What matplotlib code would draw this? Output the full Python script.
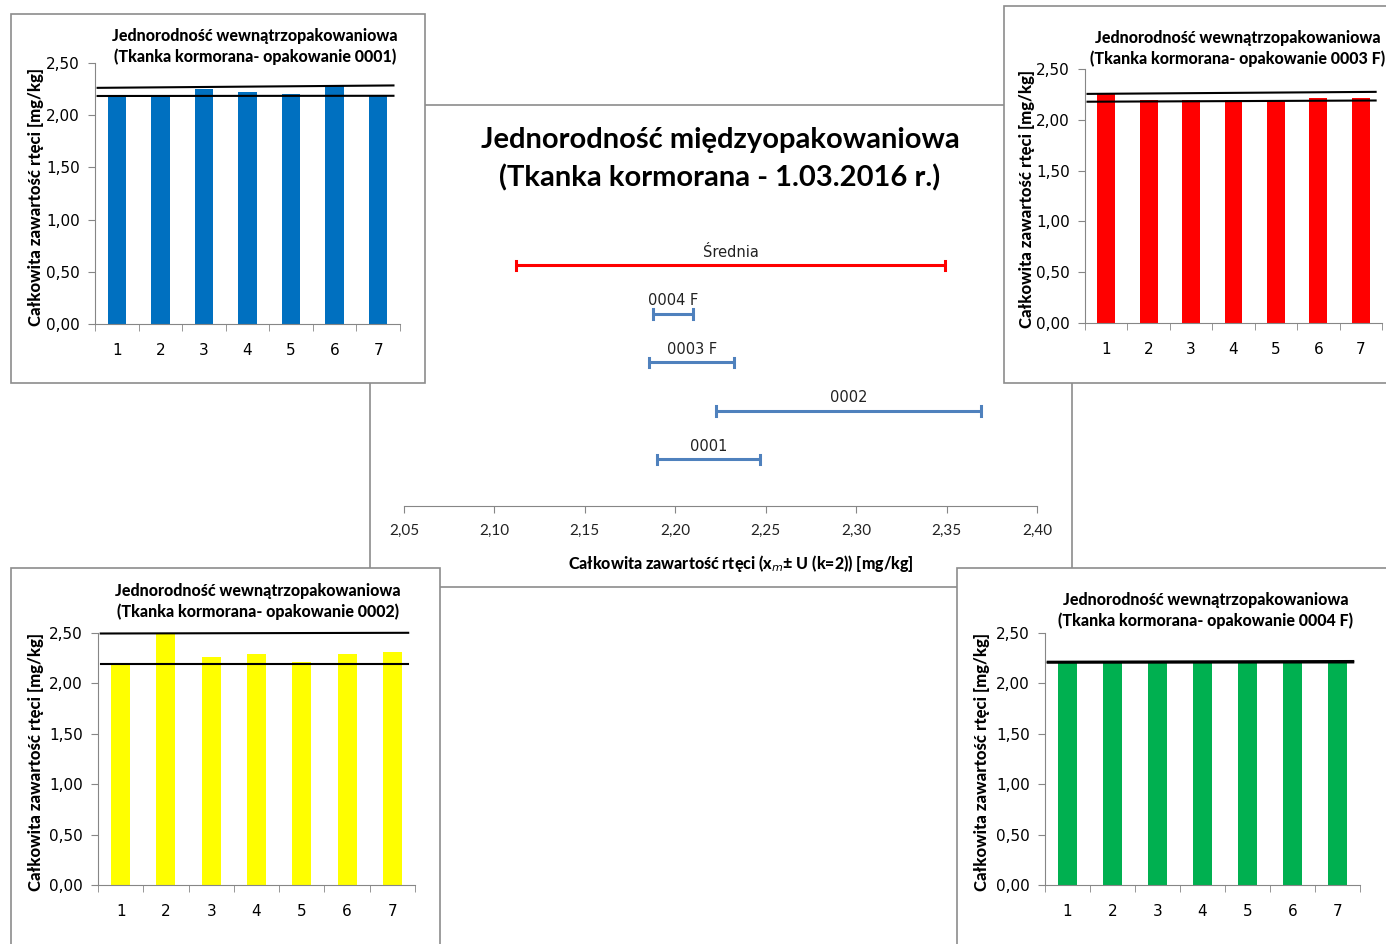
import matplotlib
matplotlib.use("Agg")
import matplotlib.pyplot as plt
from matplotlib.patches import Rectangle
import numpy as np

plt.rcParams['font.family'] = ['Lato', 'DejaVu Sans']

W, H = 1386, 944

# ---------------- data ----------------
samples = [1, 2, 3, 4, 5, 6, 7]
vals_0001 = [2.19, 2.19, 2.25, 2.22, 2.20, 2.28, 2.19]
vals_0003F = [2.26, 2.19, 2.19, 2.19, 2.19, 2.21, 2.21]
vals_0002 = [2.18, 2.50, 2.26, 2.29, 2.21, 2.29, 2.31]
vals_0004F = [2.21, 2.21, 2.21, 2.21, 2.21, 2.21, 2.21]

# limit lines (value at left end, value at right end)
upper_0001 = [2.262, 2.285]
lower_0001 = [2.184, 2.186]
upper_0003F = [2.255, 2.275]
lower_0003F = [2.178, 2.190]
upper_0002 = [2.495, 2.502]
lower_0002 = [2.192, 2.192]
upper_0004F = [2.215, 2.222]
lower_0004F = [2.205, 2.208]

y_ticks_small = [0.0, 0.5, 1.0, 1.5, 2.0, 2.5]

# central chart: intervals (lower, upper)
interval_labels = ['0001', '0002', '0003 F', '0004 F', 'Średnia']
interval_low = [2.190, 2.2225, 2.1855, 2.1877, 2.112]
interval_high = [2.2468, 2.369, 2.2325, 2.2098, 2.349]
interval_colors = ['#4F81BD', '#4F81BD', '#4F81BD', '#4F81BD', '#FF0000']
x_ticks_center = [2.05, 2.10, 2.15, 2.20, 2.25, 2.30, 2.35, 2.40]

fig = plt.figure(figsize=(W / 100, H / 100), dpi=100)
fig.patch.set_facecolor('white')


def fx(px):
    return px / W


def fy(py):
    return 1 - py / H


def box(x0, y0, x1, y1, z):
    r = Rectangle((fx(x0), fy(y1)), fx(x1 - x0), (y1 - y0) / H,
                  transform=fig.transFigure, facecolor='white',
                  edgecolor='#8C8C8C', linewidth=1.2, zorder=z)
    fig.add_artist(r)


def axes_px(left, right, top, bottom, z):
    ax = fig.add_axes([fx(left), fy(bottom), fx(right - left), (bottom - top) / H], zorder=z)
    ax.patch.set_visible(False)
    return ax


def fmt(v, d=2):
    return f"{v:.{d}f}".replace('.', ',')


AXC = '#868686'

# ---------------- central chart ----------------
box(370, 105, 1072, 587, 0)
axc = axes_px(404, 1037, 217, 506, 1)
ypos = np.arange(1, len(interval_labels) + 1)
for yv, lab, lo, hi, col in zip(ypos, interval_labels, interval_low, interval_high, interval_colors):
    axc.plot([lo, hi], [yv, yv], color=col, lw=2.2, solid_capstyle='butt')
    axc.plot([lo, lo], [yv - 0.1, yv + 0.1], color=col, lw=2.2)
    axc.plot([hi, hi], [yv - 0.1, yv + 0.1], color=col, lw=2.2)
    axc.text((lo + hi) / 2, yv + 0.12, lab, ha='center', va='bottom', fontsize=10.5,
             family=['DejaVu Sans'], color='#222222')
axc.set_xlim(2.05, 2.40)
axc.set_ylim(0.04, 6.0)
axc.set_xticks(x_ticks_center)
axc.set_xticklabels([fmt(v) for v in x_ticks_center], fontsize=11)
axc.set_yticks([])
for s in ['left', 'right', 'top']:
    axc.spines[s].set_visible(False)
axc.spines['bottom'].set_color(AXC)
axc.tick_params(axis='x', colors=AXC, length=5, labelcolor='#222222', pad=8)
fig.text(fx(741), fy(563), 'Całkowita zawartość rtęci (x$_{m}$± U (k=2)) [mg/kg]', ha='center',
         va='center', fontsize=11.5, fontweight='black', zorder=1)
fig.text(fx(720), fy(140), 'Jednorodność międzyopakowaniowa', ha='center', va='center',
         fontsize=21, fontweight='bold', zorder=1)
fig.text(fx(720), fy(178), '(Tkanka kormorana - 1.03.2016 r.)', ha='center', va='center',
         fontsize=21, fontweight='bold', zorder=1)

# ---------------- small charts ----------------
panels = [
    dict(box=(11, 14, 425, 383), ax=(95, 400, 63, 324), vals=vals_0001, color='#0070C0',
         up=upper_0001, lo=lower_0001, tx=255, ty=36, ylx=36, pack='0001'),
    dict(box=(1004, 6, 1395, 383), ax=(1085, 1382, 69, 323), vals=vals_0003F, color='#FF0000',
         up=upper_0003F, lo=lower_0003F, tx=1238, ty=38, ylx=1027, pack='0003 F'),
    dict(box=(11, 568, 440, 950), ax=(98, 415, 633, 885), vals=vals_0002, color='#FFFF00',
         up=upper_0002, lo=lower_0002, tx=258, ty=591, ylx=36, pack='0002'),
    dict(box=(957, 568, 1395, 950), ax=(1045, 1360, 633, 885), vals=vals_0004F, color='#00B050',
         up=upper_0004F, lo=lower_0004F, tx=1206, ty=600, ylx=982, pack='0004 F'),
]

for p in panels:
    box(*p['box'], 2)
    l, r, t, b = p['ax']
    ax = axes_px(l, r, t, b, 3)
    ax.bar(samples, p['vals'], width=0.42, color=p['color'], zorder=2)
    xs = [0.56, 7.35]
    ax.plot(xs, p['up'], color='black', lw=1.5, zorder=3, clip_on=False)
    ax.plot(xs, p['lo'], color='black', lw=1.5, zorder=3, clip_on=False)
    ax.set_xlim(0.5, 7.5)
    ax.set_ylim(0, 2.5)
    ax.set_yticks(y_ticks_small)
    ax.set_yticklabels([fmt(v) for v in y_ticks_small], fontsize=11, family=['DejaVu Sans'])
    ax.set_xticks(samples)
    ax.set_xticklabels([str(s) for s in samples], fontsize=11, family=['DejaVu Sans'])
    ax.set_xticks(np.arange(0.5, 8, 1), minor=True)
    ax.tick_params(axis='x', which='major', length=0, pad=14)
    ax.tick_params(axis='x', which='minor', length=5, color=AXC)
    ax.tick_params(axis='y', length=5, color=AXC, pad=6)
    for s in ['right', 'top']:
        ax.spines[s].set_visible(False)
    ax.spines['left'].set_color(AXC)
    ax.spines['bottom'].set_color(AXC)
    fig.text(fx(p['tx']), fy(p['ty']), 'Jednorodność wewnątrzopakowaniowa', ha='center',
             va='center', fontsize=11.5, fontweight='black', zorder=3)
    fig.text(fx(p['tx']), fy(p['ty'] + 21), f"(Tkanka kormorana- opakowanie {p['pack']})",
             ha='center', va='center', fontsize=11.5, fontweight='black', zorder=3)
    fig.text(fx(p['ylx']), fy((t + b) / 2 + 3), 'Całkowita zawartość rtęci [mg/kg]', rotation=90,
             ha='center', va='center', fontsize=12, fontweight='black', zorder=3)

fig.savefig('out.png', dpi=100)
